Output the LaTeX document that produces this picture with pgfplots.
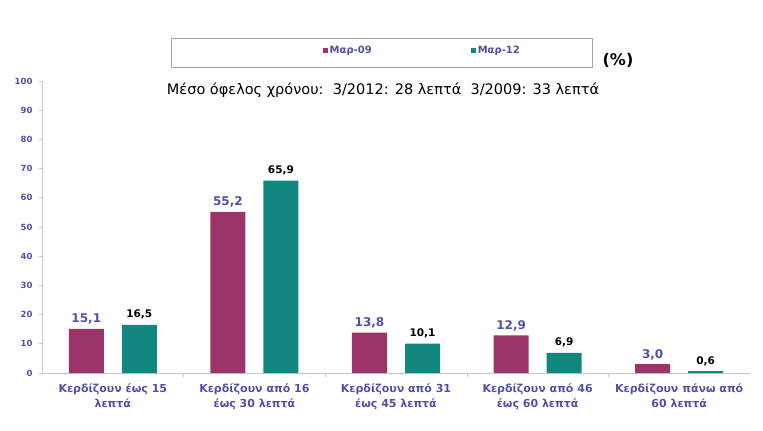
\documentclass[border=0pt]{standalone}
\usepackage{fontspec}
\setmainfont{DejaVu Sans}
\usepackage{pgfplots}
\pgfplotsset{compat=1.18}
\definecolor{mag}{HTML}{9B3468}
\definecolor{teal2}{HTML}{11877D}
\definecolor{lblue}{HTML}{5050A8}
\definecolor{axgray}{HTML}{C8C8C8}

\begin{document}
\begin{tikzpicture}
\useasboundingbox (-42pt,-58pt) rectangle (721pt,373pt);
\begin{axis}[
  scale only axis, width=708pt, height=292pt,
  ybar=18pt, bar width=35pt,
  xmin=-0.5, xmax=4.5, ymin=0, ymax=100,
  axis x line*=bottom, axis y line*=left,
  axis line style={-, axgray, line width=0.8pt},
  xtick={0,...,4}, major x tick style={draw=none},
  minor xtick={0.5,1.5,2.5,3.5},
  minor tick length=4pt,
  xticklabels={Κερδίζουν έως 15\\λεπτά, Κερδίζουν από 16\\έως 30 λεπτά,
    Κερδίζουν από 31\\έως 45 λεπτά, Κερδίζουν από 46\\έως 60 λεπτά,
    Κερδίζουν πάνω από\\60 λεπτά},
  x tick label style={font=\bfseries\fontsize{11}{15}\selectfont, text=lblue, align=center, yshift=-4pt},
  ytick={0,10,...,100},
  y tick label style={font=\bfseries\fontsize{8.5}{9}\selectfont, text=lblue, xshift=-3pt},
  tick style={axgray, line width=0.6pt},
  major tick length=3pt,
  tick align=outside,
  /pgf/number format/assume math mode=true,
  point meta=y,
  nodes near coords={\pgfmathprintnumber[fixed, fixed zerofill, precision=1, use comma]{\pgfplotspointmeta}},
  legend columns=2,
  legend style={draw=none, fill=none, at={(0.392,1.103)}, anchor=west,
    font=\bfseries\fontsize{10}{12}\selectfont, text=lblue,
    /tikz/every even column/.append style={column sep=97pt}},
  legend image code/.code={\fill[#1] (0pt,-2.5pt) rectangle (5pt,2.5pt);},
  clip=false,
]
\addplot[fill=mag, draw=none,
  every node near coord/.append style={font=\bfseries\fontsize{12}{14}\selectfont, text=lblue, yshift=1pt}]
  coordinates {(0,15.1) (1,55.2) (2,13.8) (3,12.9) (4,3.0)};
\addplot[fill=teal2, draw=none,
  every node near coord/.append style={font=\bfseries\fontsize{10.5}{12}\selectfont, text=black, yshift=2pt}]
  coordinates {(0,16.5) (1,65.9) (2,10.1) (3,6.9) (4,0.6)};
\legend{Μαρ-09, Μαρ-12}
\end{axis}
\draw[gray!70, line width=0.8pt] (129pt,306pt) rectangle (550pt,335pt);
\node[font=\bfseries\fontsize{16}{18}\selectfont] at (576pt,313pt) {(\%)};
\node[font=\fontsize{14.5}{17}\selectfont] at (341pt,283pt) {Μέσο όφελος χρόνου:\ \ 3/2012: 28 λεπτά\ \ 3/2009: 33 λεπτά};
\end{tikzpicture}
\end{document}
